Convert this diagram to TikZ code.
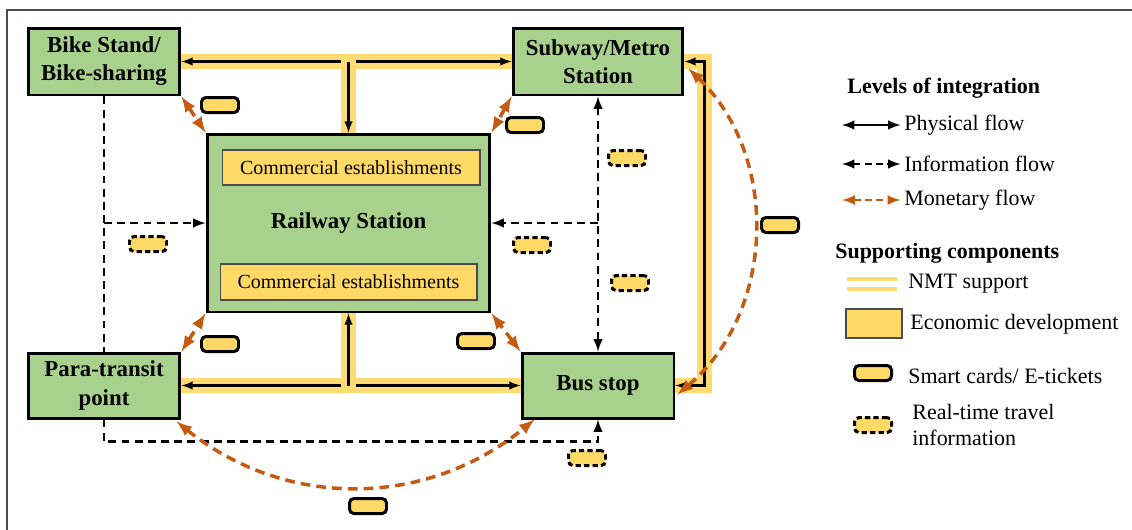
\documentclass[tikz,border=0pt]{standalone}
\usepackage{fontspec}
\setmainfont{Liberation Serif}
\usetikzlibrary{positioning}
\usetikzlibrary{calc}
\definecolor{boxgreen}{HTML}{A9D18E}
\definecolor{cardyellow}{HTML}{FFD966}
\definecolor{nmtyellow}{HTML}{FFDC73}
\definecolor{moneyorange}{HTML}{C55A11}
\tikzset{hub/.style={draw,line width=1.7pt,fill=boxgreen,align=center,font=\bfseries\fontsize{13}{16}\selectfont,inner sep=2pt},
shop/.style={draw=black!70,line width=0.6pt,fill=cardyellow,font=\fontsize{11.4}{13}\selectfont,inner sep=0pt},
phys/.style={line width=1.2pt},
info/.style={line width=1.4pt,dash pattern=on 4.5pt off 3pt},
monflow/.style={draw=moneyorange,line width=2pt,dash pattern=on 5.5pt off 3.5pt},
nmt/.style={draw=nmtyellow,line width=8pt},
card/.style={draw,line width=1.7pt,rounded corners=2.5pt,fill=cardyellow,minimum width=0.74cm,minimum height=0.3cm,inner sep=0pt},
rtinfo/.style={card,dash pattern=on 3pt off 1.8pt},
legend/.style={anchor=west,font=\fontsize{12.5}{15}\selectfont,inner sep=0pt}}
\begin{document}
\begin{tikzpicture}[x=0.02cm,y=-0.02cm]
\useasboundingbox (0,0) rectangle (1132,529);
\draw[line width=0.8pt,black!70] (7,10) rectangle (1150,545);

\node (bike) [hub,minimum width=3.04cm,minimum height=1.34cm] at (104,61.5) {Bike Stand/\\Bike-sharing};
\node (metro) [hub,minimum width=3.4cm,minimum height=1.34cm] at (598,61.5) {Subway/Metro\\Station};
\node (rail) [hub,minimum width=5.66cm,minimum height=3.56cm] at (348.5,223) {Railway Station};
\node (shop1) [shop,minimum width=5.16cm,minimum height=0.7cm] at (351,167.5) {Commercial establishments};
\node (shop2) [shop,minimum width=5.14cm,minimum height=0.72cm] at (348.5,282) {Commercial establishments};
\node (para) [hub,minimum width=3.04cm,minimum height=1.3cm] at (104,385.5) {Para-transit\\point};
\node (bus) [hub,minimum width=3.04cm,minimum height=1.3cm] at (598,385.5) {Bus stop};

\coordinate (jt) at (rail.north |- bike.east);
\coordinate (jb) at (rail.south |- para.east);

\draw[nmt] (bike.east) -- (metro.west);
\draw[nmt] (para.east) -- (bus.west);
\draw[nmt] (metro.east) -- ++(20,0) |- (bus.east);
\draw[phys,latex-latex] (bike) -- (metro);
\draw[phys,latex-latex] (para) -- (bus);
\draw[phys,latex-latex] (metro.east) -- ++(20,0) |- (bus.east);
\draw[nmt] ($(jt)+(0,-7)$) -- (rail.north);
\draw[nmt] ($(jb)+(0,7)$) -- (rail.south);
\draw[phys,-latex] (jt) -- (rail.north);
\draw[phys,-latex] (jb) -- (rail.south);

\draw[info] (bike.south) -- (para.north);
\draw[info,-latex] (bike.south |- rail.west) -- (rail.west);
\draw[info,latex-latex] (metro.south) -- (bus.north);
\draw[info,-latex] (metro.south |- rail.east) -- (rail.east);
\draw[info,-latex] (para.south) -- ++(0,22) -| (bus.south);

\draw[monflow,latex-latex] (bike.south east) -- (rail.north west);
\draw[monflow,latex-latex] (metro.south west) -- (rail.north east);
\draw[monflow,latex-latex] (para.north east) -- (rail.south west);
\draw[monflow,latex-latex] (bus.north west) -- (rail.south east);
\draw[monflow,latex-latex] ([shift={(4,7)}]metro.east) to[bend left=48] ([shift={(2,9)}]bus.east);
\draw[monflow,latex-latex] ([shift={(-5,2)}]para.south east) to[bend right=39] ([shift={(14,0)}]bus.south west);

\node (c1) [card] at (220,105) {};
\node (c2) [card] at (525,125) {};
\node (c3) [card] at (780,225) {};
\node (c4) [card] at (220,344) {};
\node (c5) [card] at (476,341) {};
\node (c6) [card] at (368,506) {};
\node (r1) [rtinfo] at (148,244) {};
\node (r2) [rtinfo] at (532,245) {};
\node (r3) [rtinfo] at (627,158) {};
\node (r4) [rtinfo] at (630,283) {};
\node (r5) [rtinfo] at (587,458) {};

\node (title1) [legend,font=\bfseries\fontsize{12.5}{15}\selectfont] at (847,88) {Levels of integration};
\node (lphys) [legend] at (904,125) {Physical flow};
\node (linfo) [legend] at (904,164) {Information flow};
\node (lmon) [legend] at (904,200) {Monetary flow};
\coordinate (p0) at (842,125);
\coordinate (i0) at (842,164);
\coordinate (m0) at (842,200);
\draw[phys,latex-latex,line width=1.4pt] (p0) -- ([xshift=-2pt]lphys.west);
\draw[info,latex-latex,dash pattern=on 4pt off 2.5pt] (i0) -- ([xshift=-2pt]linfo.west);
\draw[monflow,latex-latex,line width=1.5pt,dash pattern=on 4pt off 2.5pt] (m0) -- ([xshift=-2pt]lmon.west);
\node (title2) [legend,font=\bfseries\fontsize{12.5}{15}\selectfont] at (835,253) {Supporting components};
\node (lnmt) [legend] at (908,284) {NMT support};
\draw[nmtyellow,line width=1.8pt] (847,279) -- (897,279) (847,289) -- (897,289);
\node (lecon) [legend] at (910,324) {Economic development};
\draw[draw=black!70,line width=0.6pt,fill=cardyellow] (846,309) rectangle (902,338);
\node (lcard) [legend] at (908,376) {Smart cards/ E-tickets};
\node (kcard) [card] at (873,373) {};
\node (lrt) [legend,align=left] at (912,425) {Real-time travel\\information};
\node (krt) [rtinfo] at (873,425) {};
\end{tikzpicture}
\end{document}
